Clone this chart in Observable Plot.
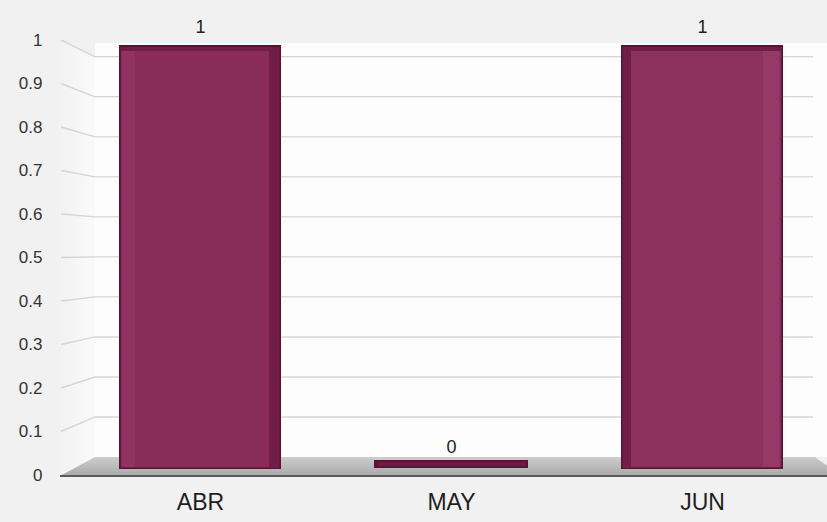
<!DOCTYPE html>
<html><head><meta charset="utf-8">
<script src="https://cdn.jsdelivr.net/npm/d3@7"></script>
<script src="https://cdn.jsdelivr.net/npm/@observablehq/plot@0.6"></script>
<style>
html,body{margin:0;padding:0;background:#f1f1f1;}
#chart svg{display:block}
</style></head><body><div id="chart"></div>
<script>
// ---- data ----
const months = ["ABR", "MAY", "JUN"];
const values = [1, 0, 1];
const yTicks = [0, 0.1, 0.2, 0.3, 0.4, 0.5, 0.6, 0.7, 0.8, 0.9, 1];
const yTickLabels = ["0", "0.1", "0.2", "0.3", "0.4", "0.5", "0.6", "0.7", "0.8", "0.9", "1"];

const data = months.map((m, i) => ({month: m, value: values[i], idx: i}));
const mid = (months.length - 1) / 2;
const nonzero = data.filter(d => d.value > 0);
const zeros = data.filter(d => d.value === 0);
const leftBars = nonzero.filter(d => d.idx < mid);   // right side face visible
const rightBars = nonzero.filter(d => d.idx > mid);  // left side face visible

// ---- 3D room: back wall, left wall, grid, floor ----
function scene(index, scales, vals, dim) {
  const y = scales.y;
  const L = dim.marginLeft, W = dim.width;
  const xf = L - 14, xb = L + 21;
  const cy = 250, kb = 0.92;
  const back = v => cy + (y(v) - cy) * kb;
  const g = d3.create("svg:g");
  const defs = g.append("defs");
  const fg = defs.append("linearGradient").attr("id", "floorGrad").attr("x1", 0).attr("x2", 0).attr("y1", 0).attr("y2", 1);
  fg.append("stop").attr("offset", "0%").attr("stop-color", "#cdcdcd");
  fg.append("stop").attr("offset", "100%").attr("stop-color", "#a9a9a9");
  const wg = defs.append("linearGradient").attr("id", "wallGrad").attr("x1", 0).attr("x2", 1).attr("y1", 0).attr("y2", 0);
  wg.append("stop").attr("offset", "0%").attr("stop-color", "#f2f2f2");
  wg.append("stop").attr("offset", "100%").attr("stop-color", "#fafafa");
  // back wall
  g.append("rect").attr("x", xb).attr("y", back(1) - 14).attr("width", W - xb).attr("height", back(0) - back(1) + 14).attr("fill", "#fdfdfd");
  // left wall
  g.append("polygon")
    .attr("points", [[xf, y(1) - 2], [xb, back(1)], [xb, back(0)], [xf, y(0)]].map(p => p.join(",")).join(" "))
    .attr("fill", "url(#wallGrad)");
  // grid lines
  for (const v of yTicks) {
    if (v === 0) continue;
    g.append("polyline")
      .attr("points", [[xf + 1, y(v)], [xb, back(v)], [W - 14, back(v)]].map(p => p.join(",")).join(" "))
      .attr("fill", "none").attr("stroke", "#d5d5d5").attr("stroke-width", 1.4);
    g.append("line").attr("x1", xb).attr("x2", W - 14).attr("y1", back(v) + 1.5).attr("y2", back(v) + 1.5)
      .attr("stroke", "#ffffff").attr("stroke-width", 1);
  }
  // floor
  g.append("polygon")
    .attr("points", [[xf, y(0) + 1], [xb, back(0)], [W - 12, back(0)], [W + 14, y(0) + 1]].map(p => p.join(",")).join(" "))
    .attr("fill", "url(#floorGrad)");
  g.append("line").attr("x1", xf).attr("x2", W).attr("y1", y(0) + 1).attr("y2", y(0) + 1)
    .attr("stroke", "#5a5a5a").attr("stroke-width", 2);
  return g.node();
}

const barBase = {x: "month", y: "value"};

const chart = Plot.plot({
  width: 827,
  height: 522,
  marginTop: 40,
  marginBottom: 47,
  marginLeft: 74,
  marginRight: 0,
  style: {background: "#f1f1f1", fontFamily: "'Liberation Sans', Arial, sans-serif", color: "#2a2a2a"},
  x: {domain: months, paddingInner: 0.38, paddingOuter: 0.19, axis: null, label: null},
  y: {domain: [0, 1], axis: null, label: null},
  marks: [
    scene,
    // zero-height slab
    Plot.barY(zeros, {x: "month", y1: "value", y2: "value", insetTop: -15, insetBottom: 7, insetLeft: 1, insetRight: 1, fill: "#5e1336"}),
    Plot.barY(zeros, {x: "month", y1: "value", y2: "value", insetTop: -13, insetBottom: 9, insetLeft: 4, insetRight: 4, fill: "#6e1b43"}),
    // bar outlines and sides
    Plot.barY(nonzero, {...barBase, insetTop: 5, insetBottom: 6, insetLeft: -3, insetRight: -3, fill: "#5a1233"}),
    Plot.barY(nonzero, {...barBase, insetTop: 7, insetBottom: 7, insetLeft: -1.5, insetRight: -1.5, fill: "#701e46"}),
    // faces
    Plot.barY(leftBars, {...barBase, insetTop: 11, insetBottom: 8, insetLeft: -1, insetRight: 9, fill: "#8a2c58"}),
    Plot.barY(rightBars, {...barBase, insetTop: 11, insetBottom: 8, insetLeft: 7, insetRight: -1, fill: "#8c315d"}),
    // highlight strips
    Plot.barY(leftBars, {...barBase, insetTop: 11, insetBottom: 8, insetLeft: 0, insetRight: 143, fill: "#91335f"}),
    Plot.barY(rightBars, {...barBase, insetTop: 11, insetBottom: 8, insetLeft: 139, insetRight: 1, fill: "#953a66"}),
    // value labels
    Plot.text(nonzero, {x: "month", y: "value", text: d => String(d.value), dy: -13, fontSize: 18, fill: "#222"}),
    Plot.text(zeros, {x: "month", y: "value", text: d => String(d.value), dy: -28, fontSize: 18, fill: "#222"}),
    // axes
    Plot.axisY(yTicks, {tickSize: 0, tickPadding: 32, fontSize: 17, label: null, tickFormat: (d, i) => yTickLabels[i], fill: "#333"}),
    Plot.axisX({tickSize: 0, tickPadding: 18, fontSize: 23, label: null, fill: "#1e1e1e"})
  ]
});
document.getElementById("chart").appendChild(chart);
</script>
</body></html>
